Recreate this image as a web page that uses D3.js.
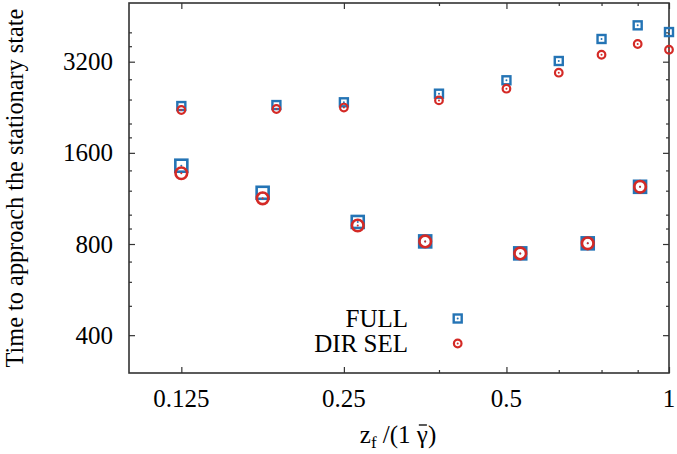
<!DOCTYPE html>
<html><head><meta charset="utf-8">
<script src="https://cdn.jsdelivr.net/npm/d3@7"></script>
<style>body{margin:0;background:#fff}svg{display:block}text{font-family:"Liberation Serif","Times New Roman",serif;fill:#000}</style>
</head><body><svg id="c" width="677" height="454"></svg>
<script>
// Upper group
const xUpper = [0.125, 0.1875, 0.25, 0.375, 0.5, 0.625, 0.75, 0.875, 1.0];
const fullUpper = [2284, 2301, 2350, 2509, 2778, 3217, 3803, 4219, 4009];
const dirUpper  = [2216, 2233, 2258, 2384, 2606, 2943, 3374, 3661, 3504];
// Lower group
const xLower = [0.125, 0.1768, 0.2652, 0.3536, 0.5303, 0.7071, 0.8839];
const fullLower = [1451, 1181, 946, 816, 745, 804, 1236];
const dirLower  = [1370, 1132, 921, 816, 745, 804, 1236];
// Ticks
const xMajor = [0.125, 0.25, 0.5, 1];
const xMajorLabels = ["0.125", "0.25", "0.5", "1"];
const xMinor = [0.375, 0.625, 0.75, 0.875];
const yMajor = [400, 800, 1600, 3200];
const yMinor = [500, 600, 700, 900, 1000, 1200, 1400, 1800, 2000, 2400, 2800, 3600, 4000];
const legendLabels = ["FULL", "DIR SEL"];

const L = 129, R = 669, T = 3, B = 373;
const blue = "#2474b5", red = "#d42a26", axisCol = "#333";
const FS = 25;
const svg = d3.select("#c");
const x = d3.scaleLog().domain([0.1, 1]).range([L, R]);
const y = d3.scaleLog().domain([300, 5000]).range([B, T]);

const g = svg.append("g");
function axisTicks(axisGen, transform, vals, size) {
  const a = g.append("g").attr("transform", transform)
    .call(axisGen.tickValues(vals).tickSize(size).tickFormat(""));
  a.select(".domain").remove();
  a.selectAll("line").attr("stroke", axisCol).attr("stroke-width", 1.2);
}
axisTicks(d3.axisTop(x), `translate(0,${B})`, xMajor, 6);
axisTicks(d3.axisTop(x), `translate(0,${B})`, xMinor, 3);
axisTicks(d3.axisBottom(x), `translate(0,${T})`, xMajor, 6);
axisTicks(d3.axisBottom(x), `translate(0,${T})`, xMinor, 3);
axisTicks(d3.axisRight(y), `translate(${L},0)`, yMajor, 6);
axisTicks(d3.axisRight(y), `translate(${L},0)`, yMinor, 3);
axisTicks(d3.axisLeft(y), `translate(${R},0)`, yMajor, 6);
axisTicks(d3.axisLeft(y), `translate(${R},0)`, yMinor, 3);

g.append("rect").attr("x", L).attr("y", T).attr("width", R - L).attr("height", B - T)
  .attr("fill", "none").attr("stroke", axisCol).attr("stroke-width", 1.6);

// Tick labels
g.selectAll(".xl").data(xMajor).enter().append("text")
  .attr("x", d => x(d)).attr("y", 407).attr("text-anchor", "middle")
  .attr("font-size", FS).text((d, i) => xMajorLabels[i]);
g.selectAll(".yl").data(yMajor).enter().append("text")
  .attr("x", 113).attr("y", d => y(d) + 8.5).attr("text-anchor", "end")
  .attr("font-size", FS).text(d => d);

// Axis titles
g.append("text").attr("transform", `translate(22.5,${(T + B) / 2}) rotate(-90)`)
  .attr("text-anchor", "middle").attr("font-size", 24.3)
  .text("Time to approach the stationary state");
const xt = g.append("text").attr("x", 398).attr("y", 443).attr("text-anchor", "middle").attr("font-size", FS);
xt.append("tspan").text("z");
xt.append("tspan").attr("font-size", 17).attr("dy", 5).text("f");
xt.append("tspan").attr("dy", -5).text(" /(1 ");
xt.append("tspan").text("\u03B3");
xt.append("tspan").text(")");
// overbar above gamma
const full = xt.node().textContent;
const gi = full.indexOf("\u03B3");
const ext = xt.node().getExtentOfChar(gi);
g.append("line").attr("x1", ext.x + 2).attr("x2", ext.x + ext.width - 1)
  .attr("y1", 425).attr("y2", 425).attr("stroke", "#000").attr("stroke-width", 1.3);

// Markers
function squares(xs, ys, s, sw) {
  const grp = g.append("g");
  xs.forEach((xv, i) => {
    const cx = x(xv), cy = y(ys[i]);
    grp.append("rect").attr("x", cx - s / 2).attr("y", cy - s / 2).attr("width", s).attr("height", s)
      .attr("fill", "none").attr("stroke", blue).attr("stroke-width", sw);
    grp.append("circle").attr("cx", cx).attr("cy", cy).attr("r", 1).attr("fill", blue);
  });
}
function circles(xs, ys, r, sw) {
  const grp = g.append("g");
  xs.forEach((xv, i) => {
    const cx = x(xv), cy = y(ys[i]);
    grp.append("circle").attr("cx", cx).attr("cy", cy).attr("r", r)
      .attr("fill", "none").attr("stroke", red).attr("stroke-width", sw);
    grp.append("circle").attr("cx", cx).attr("cy", cy).attr("r", 1).attr("fill", red);
  });
}
squares(xUpper, fullUpper, 8, 2.4);
squares(xLower, fullLower, 12, 2.6);
circles(xUpper, dirUpper, 3.8, 2.2);
circles(xLower, dirLower, 5.8, 2.6);

// Legend
const lg = g.append("g");
legendLabels.forEach((t, i) => {
  lg.append("text").attr("x", 408).attr("y", 327 + i * 25).attr("text-anchor", "end")
    .attr("font-size", FS).text(t);
});
lg.append("rect").attr("x", 457.7 - 4).attr("y", 318.5 - 4).attr("width", 8).attr("height", 8)
  .attr("fill", "none").attr("stroke", blue).attr("stroke-width", 2.4);
lg.append("circle").attr("cx", 457.7).attr("cy", 318.5).attr("r", 1).attr("fill", blue);
lg.append("circle").attr("cx", 457.7).attr("cy", 343.5).attr("r", 3.8)
  .attr("fill", "none").attr("stroke", red).attr("stroke-width", 2.2);
lg.append("circle").attr("cx", 457.7).attr("cy", 343.5).attr("r", 1).attr("fill", red);
</script></body></html>
